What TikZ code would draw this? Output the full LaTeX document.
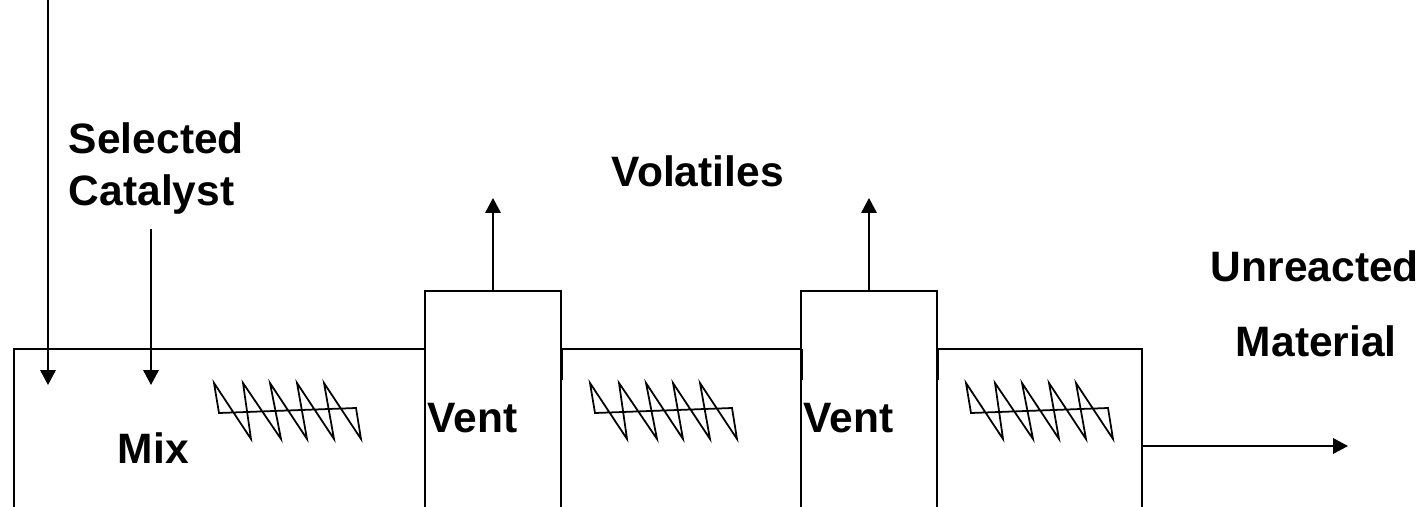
\documentclass[tikz,border=0pt]{standalone}
\usepackage{fontspec}
\setmainfont{Liberation Sans}
\usetikzlibrary{arrows.meta}
\begin{document}
\begin{tikzpicture}[x=0.02cm, y=-0.02cm, line width=1.1pt,
		flow/.style = {-{Triangle[length=0.3cm, width=0.31cm]}},
		stub/.style = {line width=1.7pt},
		label/.style = {font=\fontsize{24.2}{29}\selectfont\bfseries, inner sep=0pt, align=center},
		spring/.pic = {
			\draw[line width=1pt] (5,30) -- (0,0) -- (37,56) -- (29,0) -- (67,56) -- (56,0) -- (93,56) -- (83,0) -- (120,56) -- (110,0) -- (147,56) -- (142,25) -- cycle;
		}]
			\useasboundingbox (0,0) rectangle (1420,507);
			% reactor outline
			\coordinate (wallL) at (14,507);
			\coordinate (cornerL) at (14,349);
			\coordinate (ventAL) at (425,349);
			\coordinate (ventAR) at (561,349);
			\coordinate (ventBL) at (801,349);
			\coordinate (ventBR) at (937,349);
			\coordinate (cornerR) at (1142,349);
			\coordinate (wallR) at (1142,507);
			\draw (wallL) -- (cornerL) -- (ventAL);
			\draw (ventAR) -- (ventBL);
			\draw (ventBR) -- (cornerR) -- (wallR);
			% vents
			\coordinate (ventAbl) at (425,507);
			\coordinate (ventAtl) at (425,291);
			\coordinate (ventAtr) at (561,291);
			\coordinate (ventAbr) at (561,507);
			\coordinate (ventBbl) at (801,507);
			\coordinate (ventBtl) at (801,291);
			\coordinate (ventBtr) at (937,291);
			\coordinate (ventBbr) at (937,507);
			\draw (ventAbl) -- (ventAtl) -- (ventAtr) -- (ventAbr);
			\draw (ventBbl) -- (ventBtl) -- (ventBtr) -- (ventBbr);
			\draw[stub] (ventAL) -- +(0,31);
			\draw[stub] (ventAR) -- +(0,31);
			\draw[stub] (ventBL) -- +(0,31);
			\draw[stub] (ventBR) -- +(0,31);
			% screws
			\pic at (214,383) {spring};
			\pic at (590,383) {spring};
			\pic at (966,383) {spring};
			% labels
			\node[label, anchor=base west] (selected) at (68,153) {Selected};
			\node[label, anchor=base west] (catalyst) at (68,205) {Catalyst};
			\node[label, anchor=base west] (volatiles) at (611,186) {Volatiles};
			\node[label, anchor=base west] (unreacted) at (1210,281) {Unreacted};
			\node[label, anchor=base west] (material) at (1235,356) {Material};
			\node[label, anchor=base west] (venta) at (427,432) {Vent};
			\node[label, anchor=base west] (ventb) at (803,432) {Vent};
			\node[label, anchor=base west] (mix) at (117,463) {Mix};
			% streams
			\coordinate (feedtop) at (48,0);
			\coordinate (feedend) at (48,385);
			\coordinate (catend) at (151,385);
			\coordinate (catstart) at (151,229);
			\coordinate (ventAbase) at (493,291);
			\coordinate (ventAend) at (493,198);
			\coordinate (ventBbase) at (869,291);
			\coordinate (ventBend) at (869,198);
			\coordinate (outstart) at (1142,446);
			\coordinate (outend) at (1348,446);
			\draw[flow] (feedtop) -- (feedend);
			\draw[flow] (catstart) -- (catend);
			\draw[flow] (ventAbase) -- (ventAend);
			\draw[flow] (ventBbase) -- (ventBend);
			\draw[flow] (outstart) -- (outend);
		\end{tikzpicture}
\end{document}
